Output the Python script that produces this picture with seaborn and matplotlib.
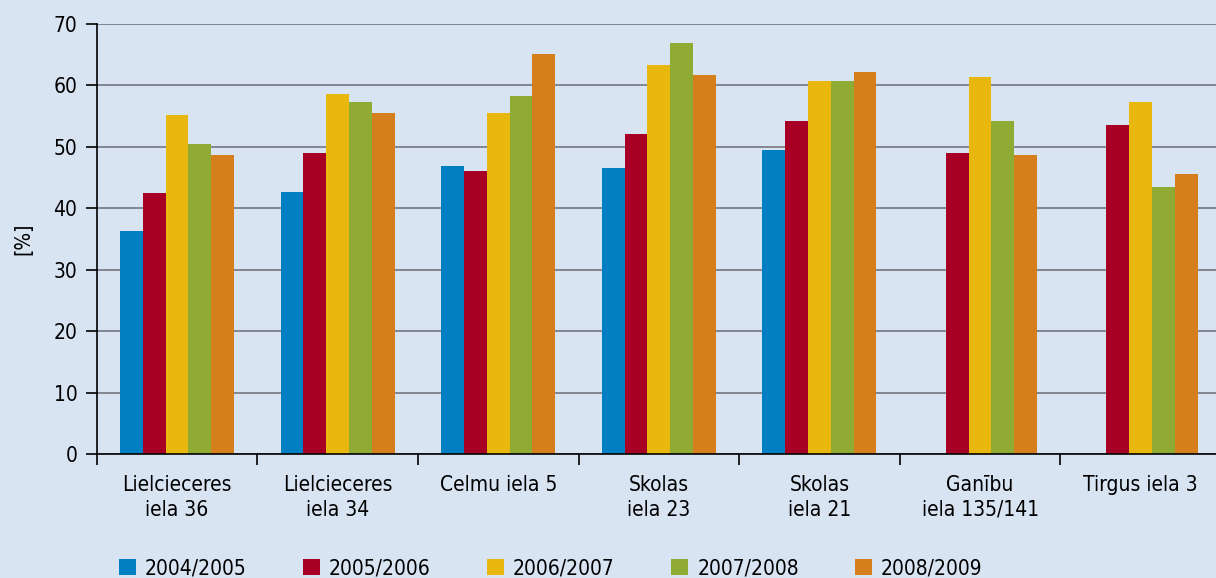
import numpy as np
import pandas as pd
import matplotlib
matplotlib.use("Agg")
import matplotlib.pyplot as plt
from matplotlib.patches import Patch
import seaborn as sns

# --- data ---
sites = ["Lielcieceres\niela 36", "Lielcieceres\niela 34", "Celmu iela 5",
         "Skolas\niela 23", "Skolas\niela 21", "Ganību\niela 135/141", "Tirgus iela 3"]
years = ["2004/2005", "2005/2006", "2006/2007", "2007/2008", "2008/2009"]

v_2004 = [36.2, 42.7, 46.9, 46.6, 49.4, np.nan, np.nan]
v_2005 = [42.4, 48.9, 46.1, 52.0, 54.2, 48.9, 53.6]
v_2006 = [55.1, 58.6, 55.5, 63.3, 60.6, 61.4, 57.3]
v_2007 = [50.5, 57.2, 58.3, 66.9, 60.6, 54.1, 43.4]
v_2008 = [48.7, 55.5, 65.0, 61.7, 62.2, 48.7, 45.5]

colors = ["#0080c3", "#a80025", "#e9b80e", "#8fab34", "#d57f1c"]
bg = "#d9e4f3"

series = [v_2004, v_2005, v_2006, v_2007, v_2008]
rows = []
for yr, vals in zip(years, series):
    for s, v in zip(sites, vals):
        rows.append({"site": s, "year": yr, "value": v})
df = pd.DataFrame(rows)

sns.set_theme(style="white")
plt.rcParams["font.family"] = ["DejaVu Sans"]
plt.rcParams["font.stretch"] = "condensed"
for k in ["text.color", "xtick.color", "ytick.color", "axes.labelcolor"]:
    plt.rcParams[k] = "black"

fig = plt.figure(figsize=(12.16, 5.78), dpi=100, facecolor=bg)
W, H = 1216, 578
left, right, bottom, top = 96.7, 1221.0, 454.0, 23.7
ax = fig.add_axes([left / W, (H - bottom) / H, (right - left) / W, (bottom - top) / H])
ax.set_facecolor(bg)

sns.barplot(data=df, x="site", y="value", hue="year", order=sites, hue_order=years,
            palette=colors, saturation=1, width=0.71, linewidth=0, ax=ax,
            legend=False, errorbar=None)

ax.set_xlim(-0.5, len(sites) - 0.5)
ax.set_ylim(0, 70)
ax.set_yticks(range(0, 71, 10))
ax.set_axisbelow(True)
ax.yaxis.grid(True, color="#7d7f87", linewidth=1.3)
ax.xaxis.grid(False)

for s in ["top", "right"]:
    ax.spines[s].set_visible(False)
for s in ["left", "bottom"]:
    ax.spines[s].set_color("black")
    ax.spines[s].set_linewidth(1.2)

fs = 15
ax.tick_params(axis="y", which="major", length=8, width=1.2, color="black",
               direction="out", pad=6, labelsize=fs, left=True)
ax.set_xticks(range(len(sites)))
ax.set_xticklabels(sites, fontsize=fs, linespacing=1.3, va="top")
ax.set_xticks(np.arange(-0.5, len(sites), 1.0), minor=True)
ax.tick_params(axis="x", which="major", length=0, pad=15)
ax.tick_params(axis="x", which="minor", length=8, width=1.2, color="black",
               direction="out", bottom=True)
ax.set_xlabel("")
ax.set_ylabel("[%]", fontsize=fs)
ax.yaxis.set_label_coords(-0.0566, 0.5)

handles = [Patch(facecolor=c, edgecolor="none", label=y) for c, y in zip(colors, years)]
fig.legend(handles=handles, loc="center left", bbox_to_anchor=(119 / W, (H - 568) / H),
           ncol=5, frameon=False, fontsize=fs, handlelength=0.82, handleheight=0.82,
           handletextpad=0.43, columnspacing=2.7, borderpad=0, borderaxespad=0)

fig.savefig("out.png", dpi=100, facecolor=bg)
